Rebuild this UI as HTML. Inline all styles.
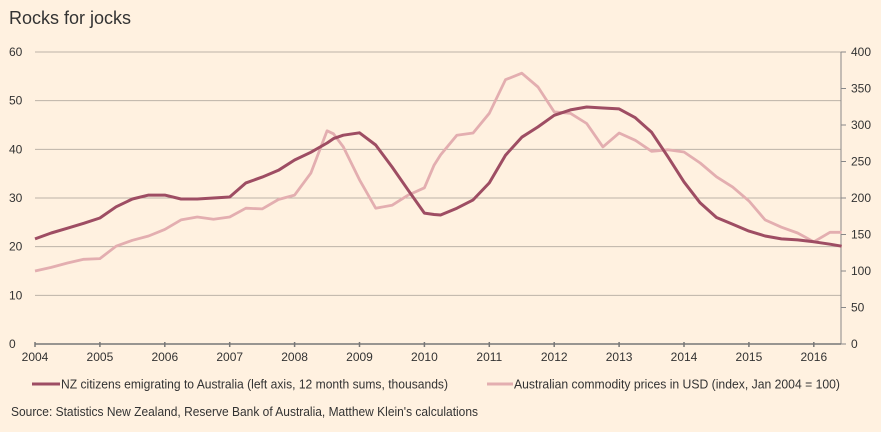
<!DOCTYPE html>
<html><head><meta charset="utf-8">
<style>
body{margin:0;background:#fff1e0;width:881px;height:432px;overflow:hidden;font-family:"Liberation Sans",sans-serif;}
svg{display:block}
text{font-family:"Liberation Sans",sans-serif;}
</style></head>
<body>
<svg id="chart" width="881" height="432">
<rect width="881" height="432" fill="#fff1e0"/>
<text x="9" y="24" font-size="18" fill="#333">Rocks for jocks</text>
<g id="grid"></g><g id="axes"></g><g id="series"></g>
<g>
<line x1="32" y1="384" x2="60" y2="384" stroke="#9e4d63" stroke-width="3"/>
<text x="61" y="388.5" font-size="12.5" fill="#333" textLength="387" lengthAdjust="spacingAndGlyphs">NZ citizens emigrating to Australia (left axis, 12 month sums, thousands)</text>
<line x1="487" y1="384" x2="513" y2="384" stroke="#e3aeb0" stroke-width="3"/>
<text x="514" y="388.5" font-size="12.5" fill="#333" textLength="326" lengthAdjust="spacingAndGlyphs">Australian commodity prices in USD (index, Jan 2004 = 100)</text>
</g>
<text x="11" y="416" font-size="12.5" fill="#333" textLength="467" lengthAdjust="spacingAndGlyphs">Source: Statistics New Zealand, Reserve Bank of Australia, Matthew Klein's calculations</text>
</svg>
<script>
const dates=[2004,2004.25,2004.5,2004.75,2005,2005.25,2005.5,2005.75,2006,2006.25,2006.5,2006.75,2007,2007.25,2007.5,2007.75,2008,2008.25,2008.5,2008.6,2008.75,2009,2009.25,2009.5,2009.75,2010,2010.15,2010.25,2010.5,2010.75,2011,2011.25,2011.5,2011.75,2012,2012.25,2012.5,2012.75,2013,2013.25,2013.5,2013.75,2014,2014.25,2014.5,2014.75,2015,2015.25,2015.5,2015.75,2016,2016.25,2016.43];
const nzMigrants=[21.6,22.8,23.8,24.8,25.9,28.2,29.8,30.6,30.6,29.8,29.8,30,30.2,33.1,34.3,35.7,37.8,39.4,41.3,42.2,42.9,43.4,40.9,36.4,31.6,26.9,26.6,26.5,27.9,29.6,33.1,38.8,42.5,44.6,47,48.1,48.7,48.5,48.3,46.5,43.5,38.5,33.3,29,26,24.6,23.2,22.2,21.6,21.4,21,20.5,20.1];
const commodity=[100,105,111,116,117,134,142,148,157,170,174,171,174,186,185,198,204,234,292,288,270,225,186,190,204,214,245,259,286,289,316,362,371,352,318,316,302,270,289,279,264,266,263,248,229,215,196,170,160,152,140,153,153];
const leftTicks=[0,10,20,30,40,50,60];
const rightTicks=[0,50,100,150,200,250,300,350,400];
const yearTicks=[2004,2005,2006,2007,2008,2009,2010,2011,2012,2013,2014,2015,2016];
const NS="http://www.w3.org/2000/svg";
const x0=35,pxYear=64.9,yTop=52,yBot=344,xEnd=841;
const xs=d=>x0+(d-2004)*pxYear;
const yL=v=>yBot-(v/60)*(yBot-yTop);
const yR=v=>yBot-(v/400)*(yBot-yTop);
function mk(tag,attrs,parent){const e=document.createElementNS(NS,tag);for(const k in attrs)e.setAttribute(k,attrs[k]);parent.appendChild(e);return e;}
const grid=document.getElementById('grid'),axes=document.getElementById('axes'),series=document.getElementById('series');
leftTicks.forEach(v=>{
  if(v>0){const l=mk('line',{x1:x0,x2:xEnd,y1:yL(v),y2:yL(v),stroke:'#bdb3a8','stroke-width':1},grid);
  
  }
  const t=mk('text',{x:9,y:yL(v)+4,'font-size':12,fill:'#333'},axes);t.textContent=v;
  
  
});
rightTicks.forEach(v=>{
  const tk=mk('line',{x1:xEnd,x2:xEnd+5,y1:yR(v),y2:yR(v),stroke:'#888','stroke-width':1},axes);
  
  
  const t=mk('text',{x:851,y:yR(v)+4,'font-size':12,fill:'#333'},axes);t.textContent=v;
  
  
});
const ra=mk('line',{x1:xEnd,x2:xEnd,y1:yTop,y2:yBot,stroke:'#888','stroke-width':1},axes);


const xa=mk('line',{x1:x0,x2:xEnd,y1:yBot,y2:yBot,stroke:'#777','stroke-width':1.5},axes);


yearTicks.forEach(y=>{
  const tk=mk('line',{x1:xs(y),x2:xs(y),y1:yBot-2,y2:yBot+3,stroke:'#777','stroke-width':1.5},axes);
  
  
  const t=mk('text',{x:xs(y),y:361,'font-size':12,fill:'#333','text-anchor':'middle'},axes);t.textContent=y;
  
  
});
const pc=mk('path',{d:'M'+dates.map((d,i)=>xs(d).toFixed(1)+','+yR(commodity[i]).toFixed(1)).join('L'),fill:'none',stroke:'#e3aeb0','stroke-width':2.8,'stroke-linejoin':'round'},series);


const pn=mk('path',{d:'M'+dates.map((d,i)=>xs(d).toFixed(1)+','+yL(nzMigrants[i]).toFixed(1)).join('L'),fill:'none',stroke:'#9e4d63','stroke-width':3,'stroke-linejoin':'round'},series);


</script>
</body></html>
